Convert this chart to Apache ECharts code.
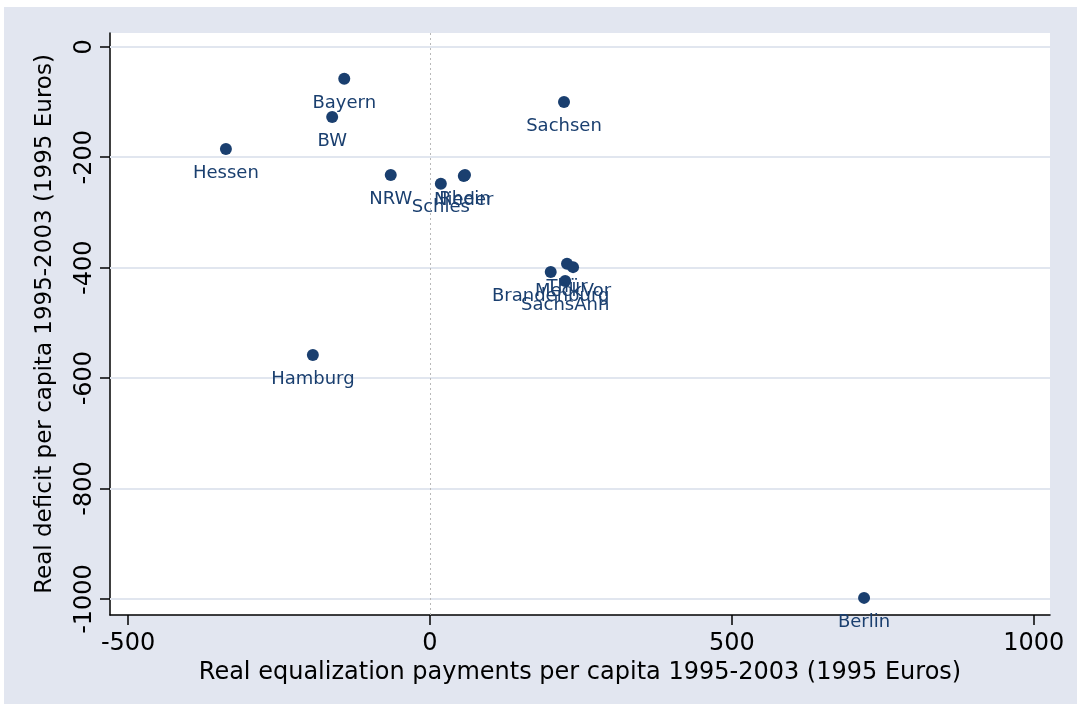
<!DOCTYPE html>
<html>
<head>
<meta charset="utf-8">
<script src="https://cdn.jsdelivr.net/npm/echarts@6/dist/echarts.min.js"></script>
<style>
  html, body { margin: 0; padding: 0; background: #fff; }
  #bg { position: absolute; left: 4px; top: 7px; width: 1073px; height: 697px; background: #e2e6f0; }
  #main { position: absolute; left: 0; top: 0; width: 1077px; height: 704px; }
</style>
</head>
<body>
<div id="bg"></div>
<div id="main"></div>
<script>
// Länder, equalization payments (x) and deficit (y), per capita 1995-2003
const states = ['Bayern', 'BW', 'Hessen', 'NRW', 'Schles', 'Nieder', 'Rhein', 'Sachsen',
                'Hamburg', 'Berlin', 'Brandenburg', 'Thür', 'MeckVor', 'SachsAnh']
const payments = [-142, -162, -338, -65, 18, 56, 58, 222, -194, 719, 200, 227, 237, 224]
const deficits = [-58, -127, -185, -232, -248, -234, -232, -100, -558, -998, -408, -393, -399, -424]
const xTicks = [-500, 0, 500, 1000]
const yTicks = [0, -200, -400, -600, -800, -1000]

const navy = '#1a3f6f'
const font = 'DejaVu Sans, sans-serif'

const myChart = echarts.init(document.getElementById('main'))

const option = {
    animation: false,
    grid: {
        left: 110, right: 27, top: 33, bottom: 89,
        show: true, backgroundColor: '#fff', borderWidth: 0
    },
    xAxis: {
        type: 'value', min: -530, max: 1027,
        name: 'Real equalization payments per capita 1995-2003 (1995 Euros)',
        nameLocation: 'middle', nameGap: 40,
        nameTextStyle: { color: '#000', fontSize: 24, fontFamily: font },
        axisLine: { show: true, onZero: false, lineStyle: { color: '#000', width: 1.5 } },
        axisTick: { show: true, length: 10, customValues: xTicks, lineStyle: { color: '#000', width: 1.5 } },
        axisLabel: { customValues: xTicks, margin: 17, color: '#000', fontSize: 24, fontFamily: font,
                     formatter: v => String(v) },
        splitLine: { show: false }
    },
    yAxis: {
        type: 'value', min: -1029, max: 25,
        name: 'Real deficit per capita 1995-2003 (1995 Euros)',
        nameLocation: 'middle', nameGap: 53, nameRotate: 90,
        nameTextStyle: { color: '#000', fontSize: 23, fontFamily: font },
        axisLine: { show: true, onZero: false, lineStyle: { color: '#000', width: 1.5 } },
        axisTick: { show: true, length: 10, customValues: yTicks, lineStyle: { color: '#000', width: 1.5 } },
        axisLabel: { customValues: yTicks, rotate: 90, margin: 13, color: '#000', fontSize: 24, fontFamily: font,
                     formatter: v => String(v) },
        splitLine: { show: false }
    },
    series: [
        {
            // gridlines and the zero reference line
            type: 'scatter', data: [], z: 1,
            markLine: {
                z: 1, silent: true, symbol: 'none', label: { show: false },
                data: yTicks.map(v => ({ yAxis: v, lineStyle: { color: '#e1e6ef', width: 2, type: 'solid' } }))
                    .concat([{ xAxis: 0, lineStyle: { color: '#b8b8b8', width: 1, type: [2, 3] } }])
            }
        },
        {
            type: 'scatter', z: 3,
            symbolSize: 12,
            itemStyle: { color: navy, opacity: 1 },
            label: {
                show: true, position: 'bottom', distance: 9,
                formatter: p => p.data[2],
                color: navy, fontSize: 18, fontFamily: font
            },
            data: states.map((s, i) => [payments[i], deficits[i], s])
        }
    ]
}
myChart.setOption(option)
</script>
</body>
</html>
